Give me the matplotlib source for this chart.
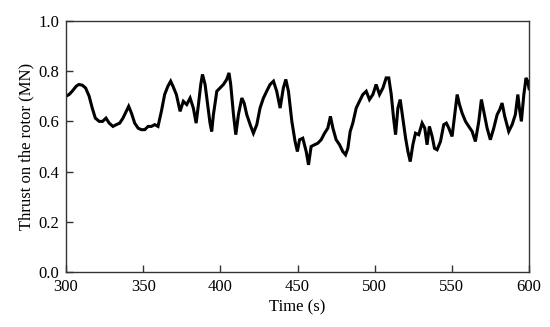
import matplotlib
matplotlib.use("Agg")
import matplotlib.pyplot as plt

time_s = [300, 302, 304, 306.6, 308.4, 310.6, 312.7, 315, 317, 319, 321.5, 323.7, 325.9, 328,
          330.4, 332.6, 334.8, 336.9, 339, 340.6, 342.4, 344.5, 346.7, 348.8, 351, 353.2, 355.3,
          357.5, 359.6, 361.8, 363.9, 366, 367.8, 369.3, 371.5, 373.9, 376, 378.2, 380.4, 382.5,
          384.3, 385.8, 387.3, 388.4, 390.1, 391.8, 393.3, 394.4, 395.5, 397.7, 399.8, 402, 404.1,
          405.6, 406.7, 408.5, 410, 411.7, 413.9, 415.4, 417.1, 419.3, 421.4, 423.6, 425.7, 427.9,
          430, 432.2, 434.4, 436.5, 438.7, 440.8, 442.4, 444.1, 446.3, 448.4, 449.9, 451.3, 453.4,
          455.6, 457.1, 458.8, 461, 463.1, 465.3, 467.5, 469.6, 471.3, 472.9, 475, 477.2, 479.3,
          481.1, 482.6, 484.1, 485.8, 488, 490.1, 492.3, 494.5, 496.6, 498.8, 500.9, 503.1, 505.3,
          507.4, 509.1, 510.7, 512.2, 513.5, 515, 516.5, 518.2, 520, 521.5, 523, 524.7, 526.4,
          528.5, 530.7, 532.4, 533.9, 535.4, 537.2, 538.7, 540.4, 542.6, 544.7, 546.4, 548, 550.1,
          551.8, 553.4, 554.9, 556.6, 558.8, 560.9, 563.1, 565.2, 567.4, 569.1, 570.6, 572.8,
          574.9, 577.1, 579.3, 581, 582.5, 584.2, 586.8, 589, 591.1, 592.7, 593.7, 595, 596.6,
          598, 599.1, 600]

thrust_mn = [0.70, 0.707, 0.72, 0.74, 0.747, 0.744, 0.733, 0.70, 0.653, 0.613, 0.60, 0.60, 0.613,
             0.593, 0.58, 0.587, 0.593, 0.613, 0.64, 0.66, 0.633, 0.593, 0.573, 0.567, 0.567, 0.58,
             0.58, 0.587, 0.58, 0.64, 0.707, 0.74, 0.76, 0.74, 0.707, 0.64, 0.68, 0.667, 0.693,
             0.653, 0.593, 0.667, 0.747, 0.787, 0.747, 0.667, 0.593, 0.56, 0.627, 0.72, 0.733,
             0.747, 0.767, 0.793, 0.747, 0.627, 0.547, 0.627, 0.693, 0.673, 0.627, 0.587, 0.553,
             0.587, 0.653, 0.693, 0.72, 0.747, 0.76, 0.72, 0.653, 0.733, 0.767, 0.72, 0.60, 0.52,
             0.48, 0.527, 0.533, 0.48, 0.427, 0.50, 0.507, 0.513, 0.527, 0.553, 0.573, 0.62, 0.573,
             0.527, 0.507, 0.48, 0.467, 0.493, 0.56, 0.593, 0.653, 0.68, 0.707, 0.72, 0.687, 0.707,
             0.747, 0.707, 0.733, 0.773, 0.773, 0.707, 0.613, 0.547, 0.653, 0.687, 0.613, 0.533,
             0.48, 0.44, 0.507, 0.553, 0.547, 0.593, 0.573, 0.507, 0.58, 0.54, 0.493, 0.487, 0.52,
             0.587, 0.593, 0.573, 0.54, 0.627, 0.707, 0.667, 0.633, 0.60, 0.58, 0.56, 0.52, 0.60,
             0.687, 0.64, 0.573, 0.527, 0.573, 0.627, 0.647, 0.673, 0.62, 0.56, 0.587, 0.627, 0.707,
             0.653, 0.60, 0.707, 0.773, 0.76, 0.73]

x_ticks = [300, 350, 400, 450, 500, 550, 600]
y_ticks = [0.0, 0.2, 0.4, 0.6, 0.8, 1.0]
x_label = "Time (s)"
y_label = "Thrust on the rotor (MN)"

plt.rcParams['font.family'] = ['Liberation Serif', 'DejaVu Serif']
plt.rcParams['font.size'] = 12

fig = plt.figure(figsize=(5.5, 3.27), dpi=100)
ax = fig.add_axes([0.12, 0.168, 0.842, 0.768])
ax.plot(time_s, thrust_mn, color='black', linewidth=2.2, solid_joinstyle='miter')
ax.set_xlim(300, 600)
ax.set_ylim(0.0, 1.0)
ax.set_xticks(x_ticks)
ax.set_yticks(y_ticks)
ax.set_yticklabels([f"{v:.1f}" for v in y_ticks])
ax.tick_params(direction='in', length=5, width=1, color='#333333', top=False, right=False,
               labelsize=12)
ax.tick_params(axis='x', pad=5)
ax.tick_params(axis='y', pad=5)
for s in ax.spines.values():
    s.set_color('#333333')
    s.set_linewidth(1.0)
ax.set_xlabel(x_label, fontsize=12, labelpad=3)
ax.set_ylabel(y_label, fontsize=12, labelpad=3)
fig.savefig("out.png", dpi=100)
